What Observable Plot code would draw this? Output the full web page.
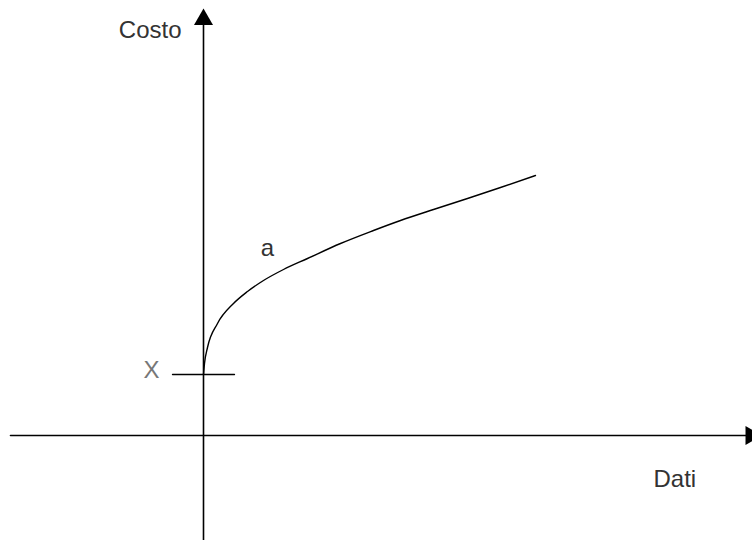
<!DOCTYPE html>
<html>
<head>
<meta charset="utf-8">
<script src="https://cdn.jsdelivr.net/npm/d3@7"></script>
<script src="https://cdn.jsdelivr.net/npm/@observablehq/plot@0.6"></script>
<style>
  html, body { margin: 0; padding: 0; background: #fff; }
  #chart { width: 752px; height: 540px; overflow: hidden; }
</style>
</head>
<body>
<div id="chart"></div>
<script>
// Curve "a": cost as a function of data volume (arbitrary units)
const curveX = [0, 1, 4, 14, 30, 44, 60, 80, 104, 137, 170, 197, 230, 264, 297, 332];
const curveY = [61, 72, 88, 112, 132, 144, 155, 166, 177, 192, 205, 215, 226, 237, 248, 260];

// Fixed cost level X and its tick extent
const fixedCost = 61;
const tickExtent = [-31, 31];

// Axis extents
const xAxisExtent = [-193, 545];
const yAxisExtent = [-105, 411];
const xArrowTip = 547.5;
const yArrowTip = 416;

// Labels
const yLabel = [{x: -22, y: 398, text: "Costo"}];
const xLabel = [{x: 450, y: -51, text: "Dati"}];
const curveLabel = [{x: 64, y: 180, text: "a"}];
const levelLabel = [{x: -52, y: 58, text: "X"}];

const curve = curveX.map((x, i) => ({x, y: curveY[i]}));
const txt = {x: "x", y: "y", text: "text", fontSize: 24, lineAnchor: "bottom"};

const chart = Plot.plot({
  width: 752,
  height: 540,
  margin: 0,
  x: {domain: [-203, 549], axis: null},
  y: {domain: [-105, 435], axis: null},
  style: {background: "#fff", fontFamily: "'Liberation Sans', Arial, sans-serif"},
  marks: [
    // x axis
    Plot.line(xAxisExtent.map(x => ({x, y: 0})), {x: "x", y: "y", stroke: "black", strokeWidth: 1.6}),
    // y axis
    Plot.line(yAxisExtent.map(y => ({x: 0, y})), {x: "x", y: "y", stroke: "black", strokeWidth: 1.6}),
    // arrow heads
    Plot.dot([{x: 0, y: yArrowTip}], {x: "x", y: "y", symbol: "triangle", r: 7.05, fill: "black", stroke: "none"}),
    Plot.dot([{x: xArrowTip, y: 0}], {x: "x", y: "y", symbol: "triangle", r: 7.05, rotate: 90, fill: "black", stroke: "none"}),
    // fixed cost tick
    Plot.line(tickExtent.map(x => ({x, y: fixedCost})), {x: "x", y: "y", stroke: "black", strokeWidth: 1.3}),
    // curve a
    Plot.line(curve, {x: "x", y: "y", curve: "monotone-x", stroke: "black", strokeWidth: 1.4}),
    // labels
    Plot.text(yLabel, {...txt, textAnchor: "end", fill: "#333"}),
    Plot.text(xLabel, {...txt, textAnchor: "start", fill: "#333"}),
    Plot.text(curveLabel, {...txt, textAnchor: "middle", fill: "#333"}),
    Plot.text(levelLabel, {...txt, textAnchor: "middle", fill: "#777"})
  ]
});
document.getElementById("chart").appendChild(chart);
</script>
</body>
</html>
